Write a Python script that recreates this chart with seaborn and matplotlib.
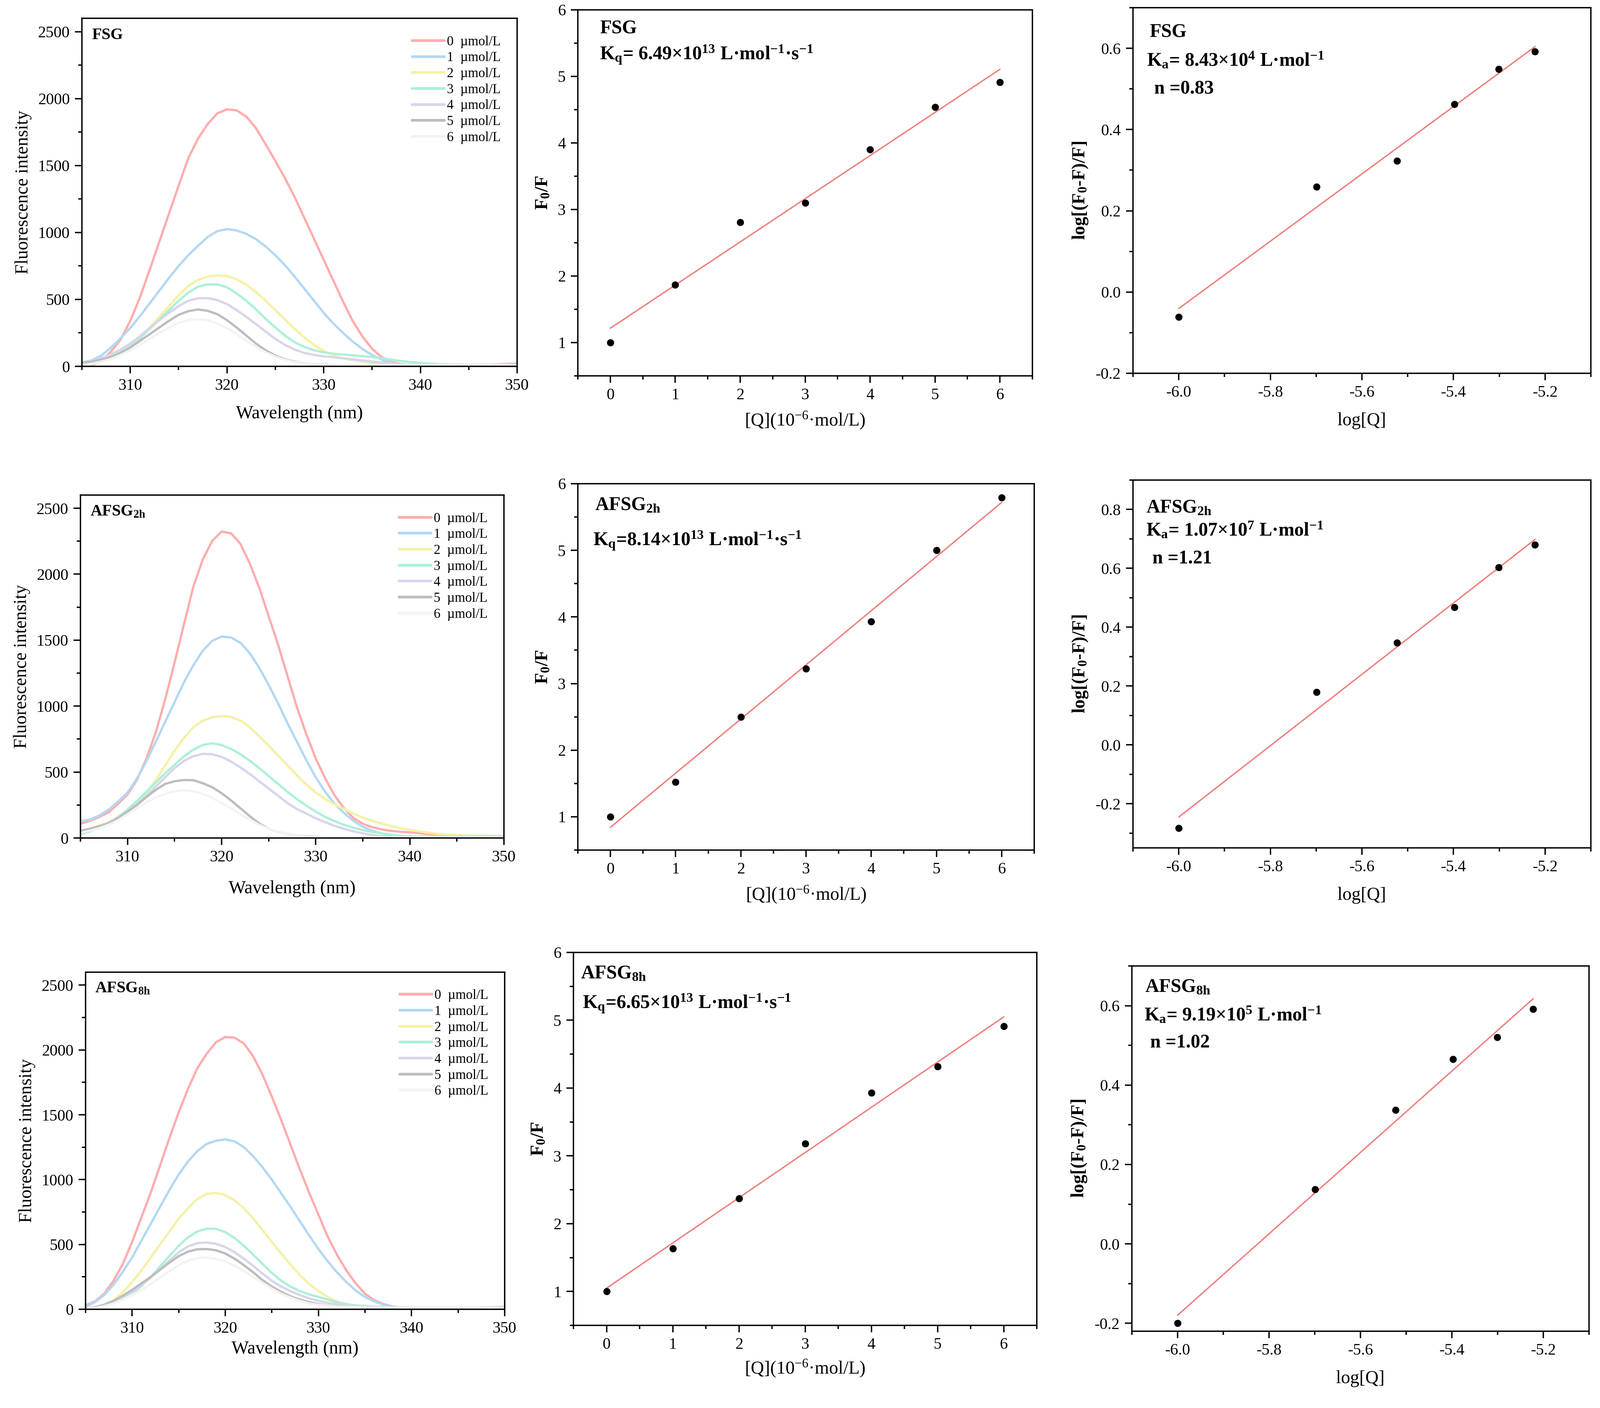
import numpy as np
import pandas as pd
import matplotlib
matplotlib.use("Agg")
import matplotlib.pyplot as plt
from matplotlib.ticker import MultipleLocator
import seaborn as sns

# --- data ---
wavelength = np.arange(305, 351)  # nm, 1 nm steps
conc_labels = ["0  µmol/L", "1  µmol/L", "2  µmol/L", "3  µmol/L",
               "4  µmol/L", "5  µmol/L", "6  µmol/L"]
line_colors = ["#FFADAD", "#B3D8F5", "#F5F1A6", "#ADF0D6", "#D6D6EC", "#BDBDBD", "#F3F3F3"]

# FSG spectra (305..350 nm)
fsg_0 = [0, 10, 40, 110, 200, 340, 515, 720, 930, 1140, 1350, 1555, 1700, 1810, 1890, 1920, 1912, 1866, 1779, 1658,
         1534, 1405, 1264, 1108, 952, 796, 640, 484, 339, 224, 131, 69, 33, 17, 8, 6, 6, 6, 6, 7, 8, 10, 12, 15, 18, 20]
fsg_1 = [30, 45, 80, 140, 210, 287, 375, 470, 565, 660, 750, 830, 900, 966, 1010, 1025, 1015, 990, 950, 895,
         830, 755, 670, 580, 490, 400, 320, 250, 185, 130, 85, 50, 25, 12, 8, 6, 5, 5, 5, 5, 5, 5, 5, 5, 5, 5]
fsg_2 = [0, 15, 40, 70, 110, 160, 220, 290, 370, 450, 530, 600, 645, 670, 680, 675, 650, 610, 555, 490,
         420, 350, 280, 215, 160, 115, 80, 60, 45, 35, 28, 22, 18, 14, 12, 10, 10, 10, 10, 10, 10, 10, 10, 10, 10, 10]
fsg_3 = [30, 40, 55, 80, 110, 150, 210, 280, 350, 420, 490, 550, 595, 612, 612, 590, 545, 490, 425, 355,
         290, 230, 180, 145, 120, 105, 95, 88, 82, 76, 70, 60, 50, 40, 32, 25, 20, 16, 14, 13, 12, 12, 12, 12, 12, 12]
fsg_4 = [25, 40, 60, 90, 125, 170, 225, 285, 345, 400, 450, 490, 508, 510, 495, 465, 420, 370, 315, 260,
         205, 160, 125, 100, 85, 75, 68, 60, 52, 44, 36, 28, 22, 16, 12, 10, 10, 10, 10, 10, 10, 10, 10, 10, 10, 10]
fsg_5 = [25, 35, 50, 70, 100, 140, 190, 240, 290, 340, 385, 412, 425, 415, 390, 345, 290, 230, 170, 120,
         80, 52, 35, 22, 15, 12, 10, 10, 10, 10, 10, 10, 10, 10, 10, 10, 10, 10, 10, 10, 10, 10, 10, 10, 10, 10]
fsg_6 = [10, 20, 35, 55, 85, 120, 160, 205, 250, 290, 325, 345, 352, 345, 320, 285, 240, 190, 145, 105,
         72, 48, 32, 22, 15, 10, 10, 10, 10, 10, 10, 10, 10, 10, 10, 10, 10, 10, 10, 10, 10, 10, 10, 10, 10, 10]

# AFSG 2h spectra
a2_0 = [108, 130, 160, 195, 260, 330, 440, 600, 800, 1050, 1330, 1620, 1907, 2112, 2252, 2323, 2310, 2230, 2080, 1897,
        1681, 1465, 1228, 991, 787, 603, 453, 323, 226, 151, 108, 82, 65, 54, 47, 43, 37, 30, 26, 22, 20, 19, 18, 17, 16, 15]
a2_1 = [125, 140, 170, 215, 275, 345, 450, 580, 730, 880, 1030, 1180, 1310, 1420, 1495, 1527, 1520, 1480, 1400, 1290,
        1160, 1020, 870, 730, 590, 460, 350, 260, 190, 130, 85, 55, 35, 20, 15, 12, 10, 10, 10, 10, 10, 10, 10, 10, 10, 10]
a2_2 = [50, 70, 95, 120, 160, 210, 270, 340, 440, 550, 660, 760, 840, 890, 915, 925, 918, 890, 840, 770,
        700, 625, 550, 475, 405, 345, 295, 255, 220, 185, 155, 130, 110, 90, 75, 62, 50, 40, 32, 26, 22, 20, 18, 17, 16, 15]
a2_3 = [30, 50, 80, 115, 160, 215, 280, 350, 420, 490, 555, 620, 670, 705, 718, 705, 675, 635, 585, 530,
        470, 410, 350, 295, 245, 200, 160, 128, 100, 78, 60, 45, 35, 25, 18, 12, 12, 12, 12, 12, 12, 12, 12, 12, 12, 12]
a2_4 = [40, 60, 85, 115, 155, 200, 255, 320, 390, 460, 530, 585, 620, 638, 635, 615, 580, 535, 485, 430,
        375, 320, 265, 220, 185, 150, 120, 92, 70, 50, 35, 22, 14, 8, 5, 5, 5, 5, 5, 5, 5, 5, 5, 5, 5, 5]
a2_5 = [55, 70, 90, 110, 150, 200, 250, 310, 365, 410, 430, 440, 438, 415, 385, 340, 285, 225, 165, 110,
        70, 45, 30, 20, 12, 8, 5, 5, 5, 5, 5, 5, 5, 5, 5, 5, 5, 5, 5, 5, 5, 5, 5, 5, 5, 5]
a2_6 = [40, 55, 75, 100, 135, 180, 225, 270, 305, 335, 355, 362, 355, 335, 305, 265, 225, 180, 140, 100,
        70, 45, 30, 20, 10, 5, 5, 5, 5, 5, 5, 5, 5, 5, 5, 5, 5, 5, 5, 5, 5, 5, 5, 5, 5, 5]

# AFSG 8h spectra
a8_0 = [30, 60, 120, 220, 350, 520, 710, 900, 1110, 1320, 1520, 1700, 1860, 1970, 2060, 2100, 2095, 2050, 1950, 1810,
        1640, 1460, 1270, 1080, 900, 730, 560, 420, 300, 200, 120, 70, 40, 20, 12, 8, 8, 8, 8, 8, 8, 10, 12, 14, 16, 18]
a8_1 = [20, 55, 110, 190, 290, 400, 530, 660, 790, 920, 1040, 1140, 1220, 1275, 1300, 1310, 1295, 1250, 1180, 1095,
        1000, 895, 790, 680, 570, 465, 370, 285, 210, 145, 95, 60, 35, 15, 8, 5, 5, 5, 5, 5, 5, 5, 5, 5, 5, 5]
a8_2 = [5, 15, 35, 70, 130, 210, 300, 400, 500, 600, 700, 780, 850, 890, 898, 880, 840, 780, 700, 610,
        520, 430, 345, 265, 195, 140, 95, 60, 40, 28, 20, 15, 12, 10, 10, 10, 10, 10, 10, 10, 10, 10, 10, 10, 10, 10]
a8_3 = [5, 15, 30, 50, 80, 120, 180, 250, 330, 410, 490, 555, 600, 622, 620, 595, 550, 490, 420, 350,
        280, 220, 175, 140, 115, 95, 75, 55, 40, 30, 25, 20, 18, 16, 14, 12, 12, 12, 12, 12, 12, 12, 12, 12, 12, 12]
a8_4 = [5, 15, 35, 60, 95, 135, 185, 245, 310, 375, 440, 485, 510, 515, 505, 480, 440, 390, 335, 275,
        220, 175, 140, 110, 85, 65, 50, 38, 28, 22, 18, 15, 12, 10, 10, 10, 10, 10, 10, 10, 10, 10, 10, 10, 10, 10]
a8_5 = [5, 15, 35, 65, 105, 150, 200, 250, 305, 360, 410, 445, 463, 465, 455, 430, 390, 340, 285, 225,
        175, 135, 100, 75, 55, 40, 30, 25, 20, 18, 16, 15, 14, 13, 12, 12, 12, 12, 12, 12, 12, 12, 12, 12, 12, 12]
a8_6 = [5, 10, 25, 45, 75, 110, 150, 195, 245, 295, 340, 375, 395, 400, 390, 370, 335, 295, 250, 205,
        160, 120, 90, 65, 45, 35, 28, 22, 20, 18, 16, 15, 14, 13, 12, 12, 12, 12, 12, 12, 12, 12, 12, 12, 12, 12]

# Stern-Volmer data
q_conc = [0, 1, 2, 3, 4, 5, 6]
f0f_fsg = [1.00, 1.87, 2.81, 3.10, 3.90, 4.54, 4.91]
f0f_a2 = [1.00, 1.52, 2.50, 3.22, 3.93, 5.00, 5.79]
f0f_a8 = [1.00, 1.63, 2.37, 3.18, 3.93, 4.32, 4.91]

# double-log data
log_q = [-6.0, -5.699, -5.523, -5.398, -5.301, -5.222]
dl_fsg = [-0.061, 0.259, 0.323, 0.462, 0.549, 0.592]
dl_a2 = [-0.283, 0.179, 0.347, 0.467, 0.603, 0.680]
dl_a8 = [-0.200, 0.137, 0.337, 0.465, 0.520, 0.591]

sample_names = ["FSG", "AFSG$_{\\mathbf{2h}}$", "AFSG$_{\\mathbf{8h}}$"]
kq_texts = ["K$_{\\mathbf{q}}$= 6.49×10$^{\\mathbf{13}}$ L·mol$^{\\mathbf{-1}}$·s$^{\\mathbf{-1}}$",
            "K$_{\\mathbf{q}}$=8.14×10$^{\\mathbf{13}}$ L·mol$^{\\mathbf{-1}}$·s$^{\\mathbf{-1}}$",
            "K$_{\\mathbf{q}}$=6.65×10$^{\\mathbf{13}}$ L·mol$^{\\mathbf{-1}}$·s$^{\\mathbf{-1}}$"]
ka_texts = ["K$_{\\mathbf{a}}$= 8.43×10$^{\\mathbf{4}}$ L·mol$^{\\mathbf{-1}}$",
            "K$_{\\mathbf{a}}$= 1.07×10$^{\\mathbf{7}}$ L·mol$^{\\mathbf{-1}}$",
            "K$_{\\mathbf{a}}$= 9.19×10$^{\\mathbf{5}}$ L·mol$^{\\mathbf{-1}}$"]
n_texts = [" n =0.83", " n =1.21", " n =1.02"]

spectra = [[fsg_0, fsg_1, fsg_2, fsg_3, fsg_4, fsg_5, fsg_6],
           [a2_0, a2_1, a2_2, a2_3, a2_4, a2_5, a2_6],
           [a8_0, a8_1, a8_2, a8_3, a8_4, a8_5, a8_6]]
sv_data = [f0f_fsg, f0f_a2, f0f_a8]
dl_data = [dl_fsg, dl_a2, dl_a8]

# --- style ---
sns.set_style("ticks", {"axes.edgecolor": "black", "xtick.color": "black", "ytick.color": "black",
                        "text.color": "black", "axes.labelcolor": "black"})
plt.rcParams["font.family"] = ["Liberation Serif", "DejaVu Serif"]
plt.rcParams["mathtext.fontset"] = "custom"
plt.rcParams["mathtext.rm"] = "Liberation Serif"
plt.rcParams["mathtext.it"] = "Liberation Serif:italic"
plt.rcParams["mathtext.bf"] = "Liberation Serif:bold"
plt.rcParams["axes.unicode_minus"] = False

W, H = 4375, 3851
fig = plt.figure(figsize=(W / 300, H / 300), dpi=300)

# axes boxes in pixels: left, top, right, bottom
boxes = [[(224, 50, 1414, 1002), (1580, 27, 2823, 1028), (3098, 21, 4350, 1021)],
         [(220, 1354, 1378, 2292), (1580, 1323, 2828, 2325), (3098, 1313, 4350, 2319)],
         [(234, 2659, 1380, 3581), (1568, 2605, 2835, 3625), (3095, 2642, 4345, 3641)]]


def make_ax(box):
    l, t, r, b = box
    return fig.add_axes([l / W, 1 - b / H, (r - l) / W, (b - t) / H])


def style_ax(ax):
    for s in ax.spines.values():
        s.set_linewidth(0.9)
        s.set_color("black")
    ax.tick_params(which="both", direction="out", width=0.9, top=False, right=False, labelsize=10.5)
    ax.tick_params(which="major", length=4.5)
    ax.tick_params(which="minor", length=2.5)


xpad_left = [8, 10, 3]
xpad_mid = [5, 5, 4]
xpad_right = [8, 8, 8]
name_pos_mid = [(0.048, 0.95), (0.038, 0.94), (0.016, 0.943)]
kq_pos = [(0.048, 0.878), (0.034, 0.845), (0.02, 0.863)]
name_pos_right = [(0.036, 0.933), (0.029, 0.924), (0.029, 0.942)]
ka_pos = [(0.03, 0.856), (0.029, 0.864), (0.027, 0.866)]
n_pos = [(0.036, 0.778), (0.032, 0.787), (0.03, 0.79)]
dl_ylims = [(-0.2, 0.7), (-0.35, 0.9), (-0.22, 0.7)]

dot_kws = dict(color="black", s=22, alpha=1, linewidths=0, zorder=3)
fit_kws = dict(color="#F27C7C", linewidth=0.9)

for row in range(3):
    # --- fluorescence spectra ---
    ax = make_ax(boxes[row][0])
    df = pd.DataFrame({
        "wl": np.tile(wavelength, 7),
        "I": np.concatenate(spectra[row]),
        "conc": np.repeat(conc_labels, len(wavelength)),
    })
    sns.lineplot(data=df, x="wl", y="I", hue="conc", hue_order=conc_labels,
                 palette=line_colors, linewidth=1.5, ax=ax)
    sns.move_legend(ax, "upper right", bbox_to_anchor=(0.99, 0.985), frameon=False, title=None,
                    fontsize=8.8, handlelength=2.4, labelspacing=0.25, handletextpad=0.2)
    for h in ax.get_legend().legend_handles:
        h.set_linewidth(1.8)
    ax.set_xlim(305, 350)
    ax.set_ylim(0, 2600)
    ax.xaxis.set_major_locator(MultipleLocator(10))
    ax.xaxis.set_minor_locator(MultipleLocator(5))
    ax.yaxis.set_major_locator(MultipleLocator(500))
    ax.yaxis.set_minor_locator(MultipleLocator(250))
    ax.set_xlabel("Wavelength (nm)", fontsize=12, labelpad=xpad_left[row])
    ax.set_ylabel("Fluorescence intensity", fontsize=12)
    ax.text(0.023, 0.952, sample_names[row], transform=ax.transAxes, fontsize=10.5,
            fontweight="bold", va="center", ha="left")
    style_ax(ax)

    # --- Stern-Volmer plot ---
    ax = make_ax(boxes[row][1])
    sns.regplot(x=q_conc, y=sv_data[row], ci=None, ax=ax, scatter_kws=dot_kws, line_kws=fit_kws)
    ax.set_xlim(-0.5, 6.5)
    ax.set_ylim(0.5, 6)
    ax.xaxis.set_major_locator(MultipleLocator(1))
    ax.xaxis.set_minor_locator(MultipleLocator(0.5))
    ax.yaxis.set_major_locator(MultipleLocator(1))
    ax.yaxis.set_minor_locator(MultipleLocator(0.5))
    ax.set_xlabel("[Q](10$^{-6}$·mol/L)", fontsize=12, labelpad=xpad_mid[row])
    ax.set_ylabel("F$_{\\mathbf{0}}$/F", fontsize=12, fontweight="bold")
    ax.text(*name_pos_mid[row], sample_names[row], transform=ax.transAxes, fontsize=12.5,
            fontweight="bold", va="center", ha="left")
    ax.text(*kq_pos[row], kq_texts[row], transform=ax.transAxes, fontsize=12.5,
            fontweight="bold", va="center", ha="left")
    style_ax(ax)

    # --- double-log plot ---
    ax = make_ax(boxes[row][2])
    sns.regplot(x=log_q, y=dl_data[row], ci=None, ax=ax, scatter_kws=dot_kws, line_kws=fit_kws)
    ax.set_xlim(-6.1, -5.1)
    ax.set_ylim(*dl_ylims[row])
    ax.xaxis.set_major_locator(MultipleLocator(0.2))
    ax.xaxis.set_minor_locator(MultipleLocator(0.1))
    ax.yaxis.set_major_locator(MultipleLocator(0.2))
    ax.yaxis.set_minor_locator(MultipleLocator(0.1))
    ax.xaxis.set_major_formatter(lambda v, p: f"{v:.1f}")
    ax.yaxis.set_major_formatter(lambda v, p: f"{v:.1f}")
    ax.set_xlabel("log[Q]", fontsize=12, labelpad=xpad_right[row])
    ax.set_ylabel("log[(F$_{\\mathbf{0}}$-F)/F]", fontsize=12, fontweight="bold")
    ax.text(*name_pos_right[row], sample_names[row], transform=ax.transAxes, fontsize=12.5,
            fontweight="bold", va="center", ha="left")
    ax.text(*ka_pos[row], ka_texts[row], transform=ax.transAxes, fontsize=12.5,
            fontweight="bold", va="center", ha="left")
    ax.text(*n_pos[row], n_texts[row], transform=ax.transAxes, fontsize=12.5,
            fontweight="bold", va="center", ha="left")
    style_ax(ax)

fig.savefig("out.png", dpi=300, facecolor="white")
